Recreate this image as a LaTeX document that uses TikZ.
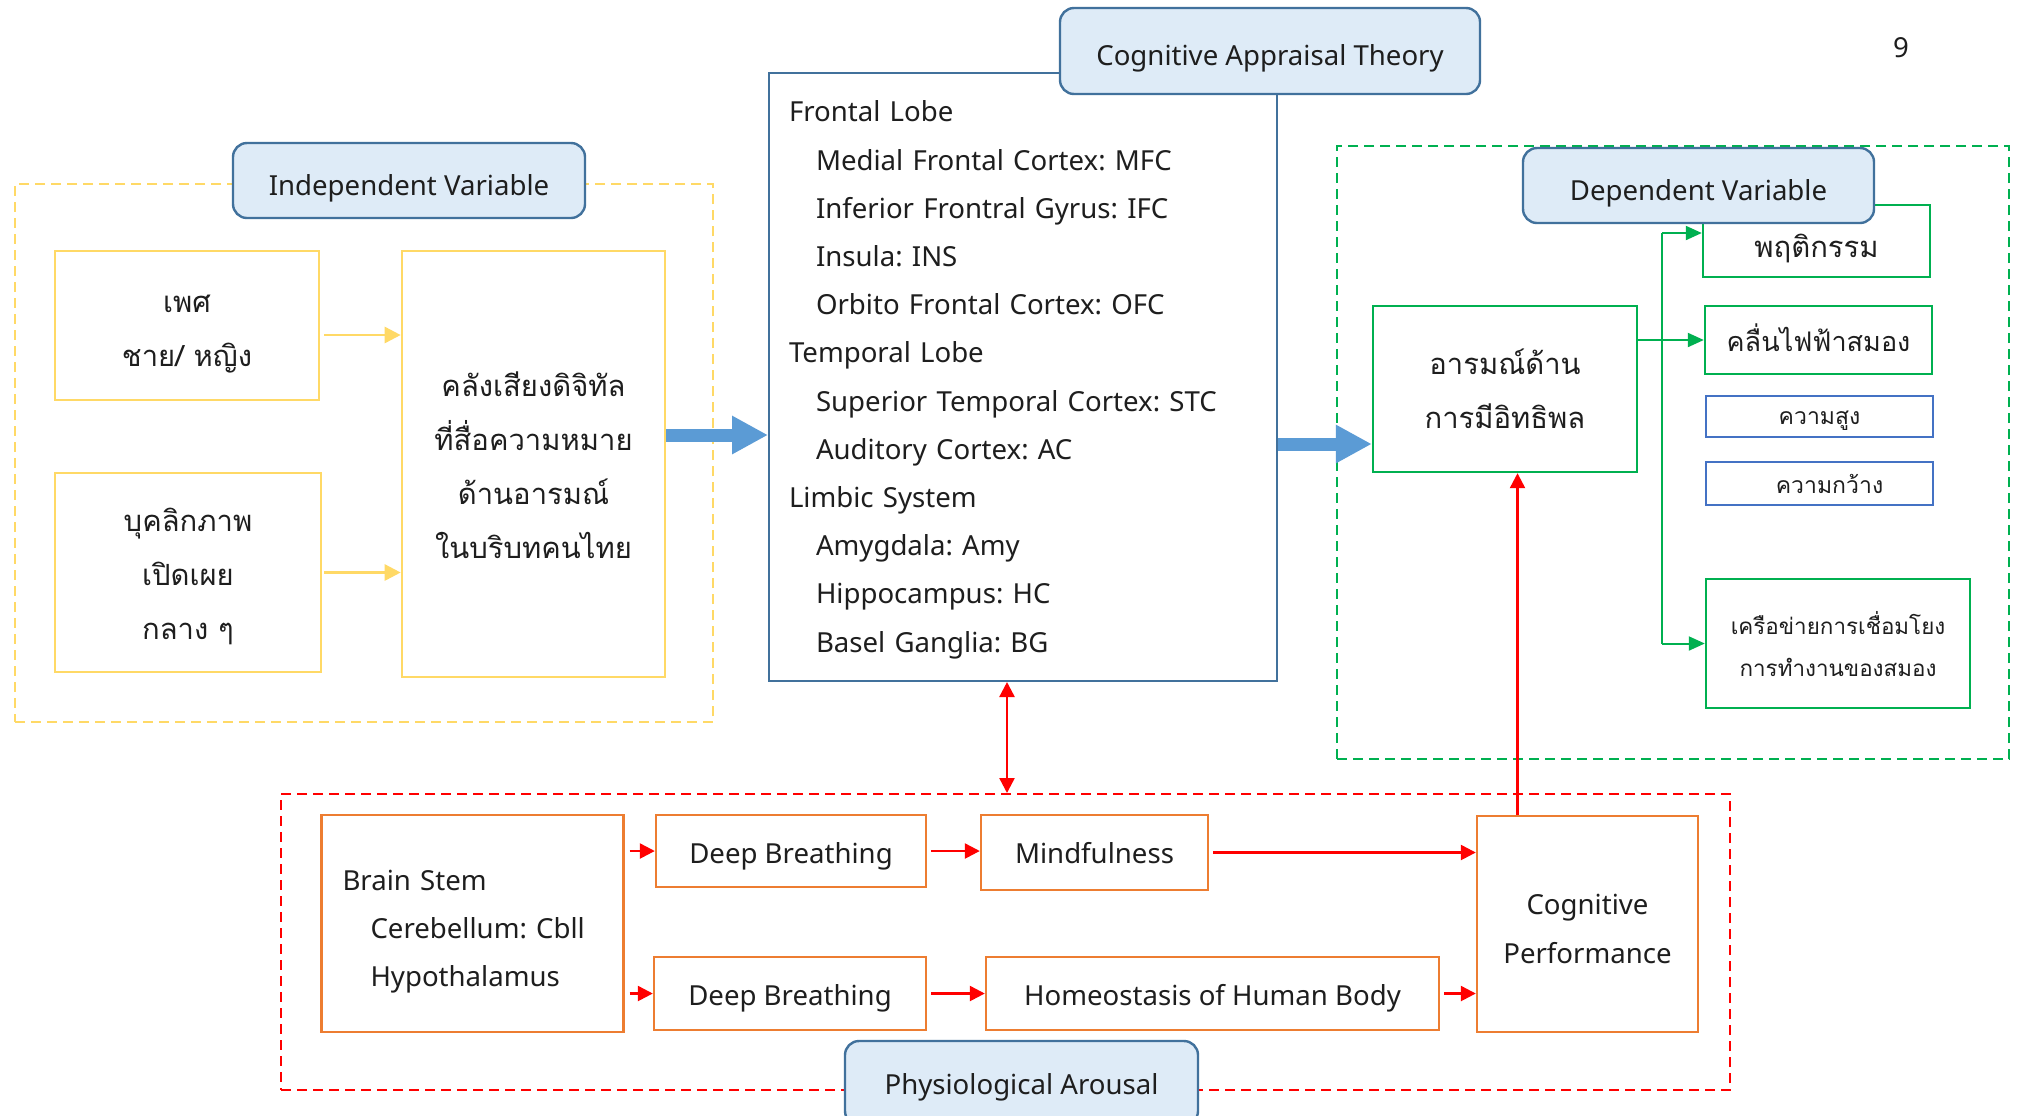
\documentclass[tikz,border=0pt]{standalone}
\usepackage{fontspec}
\setmainfont{Noto Sans}
\newfontfamily\thai[Script=Thai]{Loma}
\usetikzlibrary{arrows.meta,calc}
\definecolor{ylw}{HTML}{FFD966}
\definecolor{org}{HTML}{ED7D31}
\definecolor{grn}{HTML}{00B050}
\definecolor{blu}{HTML}{4472C4}
\definecolor{stb}{HTML}{41719C}
\definecolor{lfill}{HTML}{DEEBF7}
\definecolor{barrc}{HTML}{5B9BD5}
\definecolor{rd}{HTML}{FF0000}
\definecolor{txt}{HTML}{1E1E1E}
\frenchspacing
\newcommand\bnode[7]{\node[#1, minimum width={(#4-#2)*0.5pt}, minimum height={(#5-#3)*0.5pt}] (#6) at ({(#2+#4)/2},{(#3+#5)/2}) {#7};}
\begin{document}
\begin{tikzpicture}[x=0.5pt,y=-0.5pt,
  every node/.style={text=txt, inner sep=0pt},
  lat/.style={font=\fontsize{13.8}{24.1}\selectfont},
  th/.style={font=\thai\fontsize{14.6}{27}\selectfont, align=center},
  thkl/.style={font=\thai\fontsize{13.5}{27}\selectfont, align=center},
  thsm/.style={font=\thai\fontsize{11.2}{21.3}\selectfont, align=center},
  thxs/.style={font=\thai\fontsize{11.5}{18}\selectfont, align=center},
  hi/.style={text height=#1, text depth=0pt},
  dp/.style={text height=0pt, text depth=#1},
  ybox/.style={draw=ylw, line width=1.3pt},
  obox/.style={draw=org, line width=1.2pt},
  gbox/.style={draw=grn, line width=1.2pt},
  bbox/.style={draw=blu, line width=1.2pt},
  cbox/.style={draw=stb, line width=1pt},
  lbl/.style={draw=stb, fill=lfill, rounded corners=7pt, line width=1.2pt, lat},
  grp/.style={line width=1pt, dash pattern=on 5pt off 3pt},
  yarr/.style={draw=ylw, line width=1.3pt, -{Triangle[length=8pt,width=8pt]}},
  barr/.style={draw=barrc, line width=6.5pt, -{Triangle[length=18pt,width=18pt]}},
  rarr/.style={draw=rd, line width=1.2pt, -{Triangle[length=7.5pt,width=7.5pt]}},
  rdarr/.style={draw=rd, line width=1.2pt, {Triangle[length=7.5pt,width=7.5pt]}-{Triangle[length=7.5pt,width=7.5pt]}},
  garr/.style={draw=grn, line width=1pt, -{Triangle[length=8pt,width=7pt]}},
  gline/.style={draw=grn, line width=0.7pt}
]
\useasboundingbox (0,0) rectangle (2022,1115);
\clip (0,0) rectangle (2022,1115);
\fill[white] (0,0) rectangle (2022,1115);

% group frames
\bnode{grp, draw=ylw}{15}{184}{713}{722}{ivgrp}{}
\bnode{grp, draw=grn}{1337}{146}{2009}{759}{dvgrp}{}
\bnode{grp, draw=rd}{281}{794}{1730}{1090}{rdash}{}

% independent variable side
\bnode{ybox, th, hi=41.1pt}{55}{251}{319}{400}{sex}{เพศ\\ชาย/ หญิง}
\bnode{ybox, th, hi=67.3pt}{55}{473}{321}{672}{pers}{บุคลิกภาพ\\เปิดเผย\\กลาง ๆ}
\bnode{ybox, th, hi=94.5pt}{402}{251}{665}{677}{corpus}{คลังเสียงดิจิทัล\\ที่สื่อความหมาย\\ด้านอารมณ์\\ในบริบทคนไทย}

% central box
\bnode{cbox, lat, align=left, text width=234pt, inner xsep=10pt, dp=255.1pt}{769}{73}{1277}{681}{central}{Frontal Lobe\\
\hspace*{13.5pt}Medial Frontal Cortex: MFC\\
\hspace*{13.5pt}Inferior Frontral Gyrus: IFC\\
\hspace*{13.5pt}Insula: INS\\
\hspace*{13.5pt}Orbito Frontal Cortex: OFC\\
Temporal Lobe\\
\hspace*{13.5pt}Superior Temporal Cortex: STC\\
\hspace*{13.5pt}Auditory Cortex: AC\\
Limbic System\\
\hspace*{13.5pt}Amygdala: Amy\\
\hspace*{13.5pt}Hippocampus: HC\\
\hspace*{13.5pt}Basel Ganglia: BG}

% dependent variable side
\bnode{gbox, th, hi=39.5pt}{1373}{306}{1637}{472}{emo}{อารมณ์ด้าน\\การมีอิทธิพล}
\bnode{gbox, th, hi=16.2pt}{1703}{205}{1930}{277}{beh}{พฤติกรรม}
\bnode{gbox, thkl, hi=11.9pt}{1705}{306}{1932}{374}{kl}{คลื่นไฟฟ้าสมอง}
\bnode{bbox, thxs, hi=7.6pt}{1706}{396}{1933}{437}{high}{ความสูง}
\bnode{bbox, thxs, hi=10.2pt}{1706}{462}{1933}{505}{wide}{\hspace*{10pt}ความกว้าง}
\bnode{gbox, thsm, hi=33.2pt}{1706}{579}{1970}{708}{net}{เครือข่ายการเชื่อมโยง\\การทำงานของสมอง}

% physiological arousal
\bnode{obox, lat, align=left, text width=130pt, inner xsep=10.5pt, dp=33.1pt}{322}{815}{623}{1032}{bs}{Brain Stem\\
\hspace*{14pt}Cerebellum: Cbll\\
\hspace*{14pt}Hypothalamus}
\bnode{obox, lat, hi=12.4pt}{656}{815}{926}{887}{db1}{Deep Breathing}
\bnode{obox, lat, hi=10.9pt}{981}{815}{1208}{890}{mind}{Mindfulness}
\bnode{obox, lat, align=center, hi=39.1pt}{1477}{816}{1698}{1032}{cp}{Cognitive\\Performance}
\bnode{obox, lat, hi=11.7pt}{654}{957}{926}{1030}{db2}{Deep Breathing}
\bnode{obox, lat, hi=11.7pt}{986}{957}{1439}{1030}{homeo}{Homeostasis of Human Body}

% connectors
\draw[yarr] ([xshift=2pt,yshift=-4.75pt]sex.east) -- ([yshift=-4.75pt]sex.east -| corpus.west);
\draw[yarr] ([xshift=1pt]pers.east) -- (pers.east -| corpus.west);
\coordinate (b1) at ([yshift=14.5pt]corpus.east);
\draw[barr] (b1) -- (b1 -| central.west);
\coordinate (e2) at ($(emo.west)+(0,55)$);
\draw[barr] (central.east |- e2) -- (e2);
\draw[garr] (emo.east |- kl.west) -- (kl.west);
\coordinate (gj) at (1662,337);
\coordinate (gb) at ([yshift=4pt]beh.west);
\draw[gline] (gj |- gb) -- (gj |- net.west);
\draw[garr] (gj |- gb) -- (gb);
\draw[garr] (gj |- net.west) -- (net.west);
\draw[rdarr] ([xshift=-8pt]central.south) -- ([xshift=-8pt]central.south |- rdash.north);
\draw[rarr] ([xshift=-35pt]cp.north) -- ([xshift=-35pt]cp.north |- emo.south);
\draw[rarr] ([xshift=2.5pt]bs.east |- db1.west) -- (db1.west);
\draw[rarr] ([xshift=2pt]db1.east) -- (db1.east -| mind.west);
\draw[rarr] ([xshift=2pt]mind.east) -- (mind.east -| cp.west);
\draw[rarr] ([xshift=2.5pt]bs.east |- db2.west) -- (db2.west);
\draw[rarr] ([xshift=2pt]db2.east) -- (db2.east -| homeo.west);
\draw[rarr] ([xshift=2pt]homeo.east) -- (homeo.east -| cp.west);

% labels
\bnode{lbl, hi=14.9pt}{233}{143}{585}{218}{ivlbl}{Independent Variable}
\bnode{lbl, hi=14.2pt}{1060}{8}{1480}{94}{catlbl}{Cognitive Appraisal Theory}
\bnode{lbl, hi=15.1pt}{1523}{148}{1874}{223}{dvlbl}{Dependent Variable}
\bnode{lbl, hi=11.2pt}{845}{1041}{1198}{1125}{palbl}{Physiological Arousal}
\node[lat] (pg) at (1901,48) {9};
\end{tikzpicture}
\end{document}
